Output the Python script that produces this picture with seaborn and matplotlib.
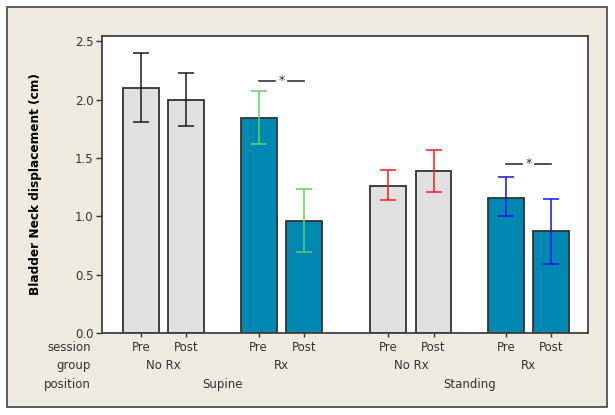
import numpy as np
import pandas as pd
import matplotlib
matplotlib.use("Agg")
import matplotlib.pyplot as plt
import matplotlib.transforms as mtransforms
from matplotlib.patches import Rectangle
import seaborn as sns

# ---- data ----
session = ["Pre", "Post", "Pre", "Post", "Pre", "Post", "Pre", "Post"]
group = ["No Rx", "No Rx", "Rx", "Rx", "No Rx", "No Rx", "Rx", "Rx"]
position = ["Supine", "Supine", "Supine", "Supine",
            "Standing", "Standing", "Standing", "Standing"]
means = [2.10, 2.00, 1.84, 0.96, 1.26, 1.39, 1.16, 0.87]
ci_low = [1.81, 1.77, 1.62, 0.69, 1.14, 1.21, 1.00, 0.59]
ci_high = [2.40, 2.23, 2.07, 1.23, 1.40, 1.57, 1.34, 1.15]
yticks = [0.0, 0.5, 1.0, 1.5, 2.0, 2.5]
ylabel = "Bladder Neck displacement (cm)"
row_labels = ["session", "group", "position"]
sig_pairs = [(2, 3), (6, 7)]
sig_heights = [2.16, 1.45]

# ---- layout ----
pair_gap = 1.0
group_gap = 1.6
pos_gap = 1.86
xs = []
x = 0.0
for i in range(len(means)):
    if i > 0:
        if position[i] != position[i - 1]:
            x += pos_gap
        elif group[i] != group[i - 1]:
            x += group_gap
        else:
            x += pair_gap
    xs.append(x)

err_colors = ["#1a1a1a", "#1a1a1a", "#5fd35f", "#5fd35f",
              "#ff1a1a", "#ff1a1a", "#1414e6", "#1414e6"]
palette = {"No Rx": "#e1e1e1", "Rx": "#0088b2"}
text_color = "#333333"

fig = plt.figure(figsize=(6.15, 4.15), dpi=100)
fig.patch.set_facecolor("white")
bg = Rectangle((7 / 615, 1 - 407 / 415), 600 / 615, 400 / 415,
               transform=fig.transFigure, facecolor="#efebe1",
               edgecolor="#505050", linewidth=1.3, zorder=-10)
fig.add_artist(bg)

ax = fig.add_axes([102 / 615, 82 / 415, 486 / 615, 297 / 415])
ax.set_zorder(1)
ax.set_facecolor("white")

df = pd.DataFrame({"x": xs, "mean": means, "group": group})
sns.barplot(data=df, x="x", y="mean", hue="group", palette=palette,
            native_scale=True, dodge=False, width=0.79, errorbar=None,
            saturation=1, edgecolor="#333333", linewidth=1.3, legend=False,
            ax=ax)

for xi, m, lo, hi, c in zip(xs, means, ci_low, ci_high, err_colors):
    ax.errorbar([xi], [m], yerr=[[m - lo], [hi - m]], fmt="none",
                ecolor=c, elinewidth=1.1, capsize=5.6, capthick=1.1, zorder=5)

for (a, b), h in zip(sig_pairs, sig_heights):
    c = (xs[a] + xs[b]) / 2
    ax.plot([c - 0.5, c - 0.14], [h, h], color="#333333", lw=1.2)
    ax.plot([c + 0.14, c + 0.5], [h, h], color="#333333", lw=1.2)
    ax.text(c, h + 0.005, "*", ha="center", va="center", fontsize=9,
            color="#333333")

ax.set_xlim(xs[0] - 0.86, xs[-1] + 0.81)
ax.set_ylim(0, 2.545)
ax.set_yticks(yticks)
ax.set_yticklabels([f"{v:.1f}" for v in yticks])
ax.set_xticks(xs)
ax.set_xticklabels([])
ax.tick_params(axis="y", direction="out", length=4, width=1, color="#333333",
               labelsize=8.5, labelcolor=text_color, pad=2)
ax.tick_params(axis="x", direction="out", length=3, width=1, color="#333333")
for s in ax.spines.values():
    s.set_visible(True)
    s.set_color("#404040")
    s.set_linewidth(1.3)
ax.set_xlabel("")
ax.set_ylabel(ylabel, fontsize=8.7, fontweight="bold", color="black", labelpad=24)
ax.grid(False)

trans = mtransforms.blended_transform_factory(ax.transData, ax.transAxes)
rows_y = [-0.05, -0.111, -0.172]
fs = 8.5
for xi, s in zip(xs, session):
    ax.text(xi, rows_y[0], s, transform=trans, ha="center", va="center",
            fontsize=fs, color=text_color)
# group labels
i = 0
while i < len(xs):
    j = i
    while j + 1 < len(xs) and group[j + 1] == group[i] and position[j + 1] == position[i]:
        j += 1
    ax.text((xs[i] + xs[j]) / 2, rows_y[1], group[i], transform=trans,
            ha="center", va="center", fontsize=fs, color=text_color)
    i = j + 1
# position labels
i = 0
while i < len(xs):
    j = i
    while j + 1 < len(xs) and position[j + 1] == position[i]:
        j += 1
    ax.text((xs[i] + xs[j]) / 2, rows_y[2], position[i], transform=trans,
            ha="center", va="center", fontsize=fs, color=text_color)
    i = j + 1
rtrans = mtransforms.blended_transform_factory(fig.transFigure, ax.transAxes)
for lab, ry in zip(row_labels, rows_y):
    fig.text(91 / 615, ry, lab, ha="right", va="center", fontsize=fs,
             color=text_color, transform=rtrans)

fig.savefig("out.png", dpi=100, facecolor=fig.get_facecolor())
